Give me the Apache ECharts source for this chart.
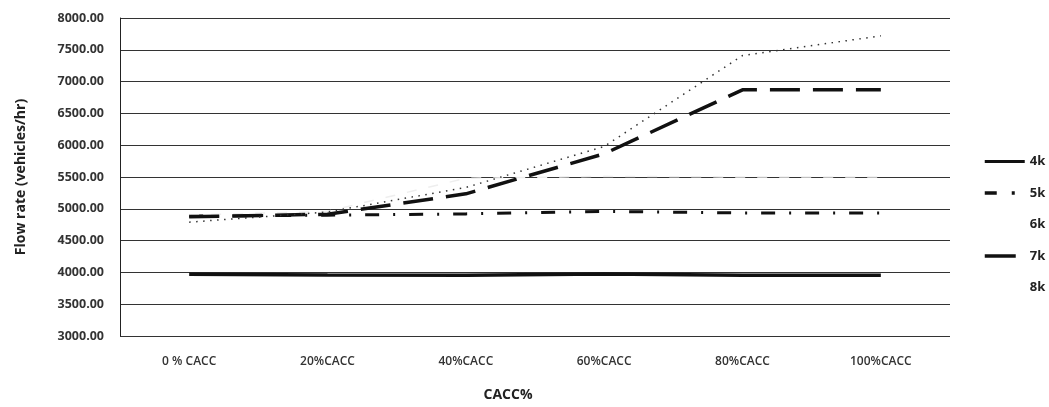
<!DOCTYPE html>
<html>
<head>
<meta charset="utf-8">
<script src="https://cdn.jsdelivr.net/npm/echarts@6/dist/echarts.min.js"></script>
<style>
  html, body { margin: 0; padding: 0; background: #fff; }
  #chart { width: 1049px; height: 407px; }
</style>
</head>
<body>
<div id="chart"></div>
<script>
var categories = ["0 % CACC", "20%CACC", "40%CACC", "60%CACC", "80%CACC", "100%CACC"];
var flow4k = [3970, 3960, 3955, 3975, 3955, 3955];
var flow5k = [4885, 4900, 4920, 4960, 4935, 4935];
var flow6k = [4900, 4960, 5480, 5510, 5500, 5500];
var flow7k = [4875, 4915, 5235, 5865, 6870, 6870];
var flow8k = [4790, 4950, 5335, 5980, 7410, 7720];
var yTicks = { min: 3000, max: 8000, step: 500 };

var font = "Open Sans";

var chart = echarts.init(document.getElementById("chart"));

var options = {
  animation: false,
  color: ["#111", "#111", "#eeeeee", "#111", "#333"],
  textStyle: { fontFamily: font },
  grid: { left: 120, right: 99, top: 18, bottom: 68 },
  legend: {
    orient: "vertical",
    left: 978,
    top: 150,
    itemWidth: 40,
    itemHeight: 14,
    itemGap: 18.5,
    itemStyle: { opacity: 0 },
    textStyle: { fontFamily: font, fontSize: 13, fontWeight: "bold", color: "#222" },
    data: [
      { name: "4k", lineStyle: { width: 3 } },
      { name: "5k", lineStyle: { width: 3.5, type: [12, 15, 3, 20] } },
      { name: "6k", lineStyle: { opacity: 0 } },
      { name: "7k", lineStyle: { width: 3.5, type: [31, 20] } },
      { name: "8k", lineStyle: { opacity: 0 } }
    ]
  },
  xAxis: {
    type: "category",
    data: categories,
    boundaryGap: true,
    axisLine: { show: false },
    axisTick: { show: false },
    axisLabel: { margin: 20, fontSize: 12, fontWeight: 600, color: "#333", fontFamily: font },
    name: "CACC%",
    nameLocation: "middle",
    nameGap: 52,
    nameTextStyle: { fontSize: 14, fontWeight: "bold", color: "#222", padding: [0, 54, 0, 0] }
  },
  yAxis: {
    type: "value",
    min: yTicks.min,
    max: yTicks.max,
    interval: yTicks.step,
    axisLine: { show: true, lineStyle: { color: "#222", width: 1 } },
    axisTick: { show: false },
    axisLabel: {
      margin: 16,
      fontSize: 12.5,
      fontWeight: "bold",
      color: "#333",
      formatter: function (v) { return v.toFixed(2); }
    },
    splitLine: { lineStyle: { color: "#333", width: 1 } },
    name: "Flow rate (vehicles/hr)",
    nameLocation: "middle",
    nameGap: 92,
    nameTextStyle: { fontSize: 14, fontWeight: "bold", color: "#222" }
  },
  series: [
    {
      name: "4k", type: "line", data: flow4k, symbol: "none",
      lineStyle: { color: "#111", width: 3.5, type: "solid" }
    },
    {
      name: "5k", type: "line", data: flow5k, symbol: "none",
      lineStyle: { color: "#111", width: 3, type: [14, 14, 2, 14] }
    },
    {
      name: "6k", type: "line", data: flow6k, symbol: "none",
      lineStyle: { color: "#eeeeee", width: 1.5, type: [10, 12] }
    },
    {
      name: "7k", type: "line", data: flow7k, symbol: "none",
      lineStyle: { color: "#111", width: 3.5, type: [30, 13] }
    },
    {
      name: "8k", type: "line", data: flow8k, symbol: "none",
      lineStyle: { color: "#333", width: 1.5, type: [1.5, 5.5] }
    }
  ]
};

chart.setOption(options);
</script>
</body>
</html>
